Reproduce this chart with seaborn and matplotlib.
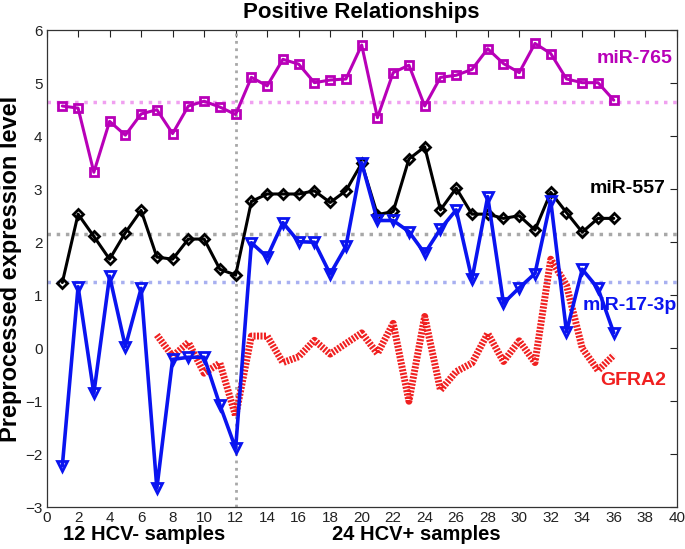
import numpy as np
import pandas as pd
import matplotlib
matplotlib.use("Agg")
import matplotlib.pyplot as plt
import seaborn as sns

samples = list(range(1, 37))
mir765 = [4.57, 4.53, 3.32, 4.28, 4.02, 4.42, 4.50, 4.05, 4.57, 4.66, 4.55, 4.41,
          5.11, 4.95, 5.45, 5.36, 5.01, 5.06, 5.08, 5.72, 4.35, 5.20, 5.34, 4.57,
          5.11, 5.15, 5.26, 5.65, 5.37, 5.20, 5.75, 5.56, 5.08, 5.01, 5.01, 4.68]
mir557 = [1.24, 2.53, 2.11, 1.68, 2.18, 2.60, 1.72, 1.68, 2.06, 2.06, 1.49, 1.38,
          2.77, 2.91, 2.91, 2.91, 2.97, 2.75, 2.97, 3.49, 2.52, 2.58, 3.57, 3.80,
          2.61, 3.02, 2.53, 2.53, 2.45, 2.50, 2.23, 2.94, 2.56, 2.19, 2.45, 2.45]
mir17 = [-2.22, 1.16, -0.85, 1.36, 0.03, 1.13, -2.64, -0.21, -0.17, -0.17, -1.07, -1.89,
         1.99, 1.72, 2.37, 2.01, 2.00, 1.40, 1.92, 3.50, 2.41, 2.41, 2.20, 1.79,
         2.25, 2.61, 1.30, 2.86, 0.85, 1.14, 1.41, 2.78, 0.31, 1.49, 1.13, 0.29]
gfra2_x = list(range(7, 37))
gfra2 = [0.25, -0.15, 0.11, -0.47, -0.28, -1.28, 0.23, 0.23, -0.27, -0.16, 0.15, -0.11,
         0.09, 0.29, -0.10, 0.47, -1.00, 0.60, -0.79, -0.44, -0.28, 0.28, -0.25, 0.14,
         -0.27, 1.68, 1.19, 0.00, -0.42, -0.13]
mean_765, mean_557, mean_17 = 4.65, 2.15, 1.25

MAG = "#b800b8"
BLUE = "#0a14f0"
RED = "#f02020"

sns.set_theme(style="white")
plt.rcParams['font.family'] = ['Liberation Sans', 'DejaVu Sans']
plt.rcParams['text.color'] = 'black'
plt.rcParams['axes.labelcolor'] = 'black'

fig = plt.figure(figsize=(6.85, 5.49), dpi=100)
ax = fig.add_axes([0.068, 0.076, 0.92, 0.869])

ax.axhline(mean_765, color="#f0a0f0", lw=2.5, ls=":", zorder=1)
ax.axhline(mean_557, color="#a8a8a8", lw=2.5, ls=":", zorder=1)
ax.axhline(mean_17, color="#a8b0f0", lw=2.5, ls=":", zorder=1)
ax.axvline(12, color="#a8a8a8", lw=2, ls=":", zorder=1)

df765 = pd.DataFrame({"x": samples, "y": mir765})
df557 = pd.DataFrame({"x": samples, "y": mir557})
df17 = pd.DataFrame({"x": samples, "y": mir17})
dfg = pd.DataFrame({"x": gfra2_x, "y": gfra2})

sns.lineplot(data=dfg, x="x", y="y", ax=ax, color=RED, lw=5, ls=(0, (0.3, 0.2)),
             zorder=2, estimator=None)
sns.lineplot(data=df765, x="x", y="y", ax=ax, color=MAG, lw=2.2, marker="s", ms=6,
             mfc="none", mec=MAG, mew=2, estimator=None, zorder=3)
sns.lineplot(data=df557, x="x", y="y", ax=ax, color="black", lw=2.2, marker="D", ms=5.5,
             mfc="none", mec="black", mew=2, estimator=None, zorder=3)
sns.lineplot(data=df17, x="x", y="y", ax=ax, color=BLUE, lw=2.6, marker="v", ms=7.5,
             mfc="none", mec=BLUE, mew=2, estimator=None, zorder=4)

ax.set_xlim(0, 40)
ax.set_ylim(-3, 6)
ax.set_xticks(range(0, 41, 2))
ax.set_yticks(range(-3, 7))
ax.tick_params(axis="both", which="both", direction="in", top=True, right=True,
               length=5, width=0.8, labelsize=11, colors="#222222", pad=3)
for s in ax.spines.values():
    s.set_color("#333333")
    s.set_linewidth(0.9)
    s.set_visible(True)

ax.set_xlabel("")
ax.set_ylabel("Preprocessed expression level", fontsize=17, fontweight="bold",
              labelpad=2, color="black")
ax.set_title("Positive Relationships", fontsize=16, fontweight="bold", pad=9, color="black")

ax.text(39.7, 5.46, "miR-765", color=MAG, fontsize=14, fontweight="bold", ha="right", va="center")
ax.text(39.3, 3.02, "miR-557", color="black", fontsize=14, fontweight="bold", ha="right", va="center")
ax.text(40.0, 0.8, "miR-17-3p", color=BLUE, fontsize=14, fontweight="bold", ha="right", va="center")
ax.text(39.3, -0.6, "GFRA2", color=RED, fontsize=14, fontweight="bold", ha="right", va="center")

fig.text(144 / 685, 1 - 535 / 549, "12 HCV- samples", fontsize=14.5, fontweight="bold",
         ha="center", va="center")
fig.text(416 / 685, 1 - 535 / 549, "24 HCV+ samples", fontsize=14.5, fontweight="bold",
         ha="center", va="center")

fig.savefig("out.png", dpi=100)
